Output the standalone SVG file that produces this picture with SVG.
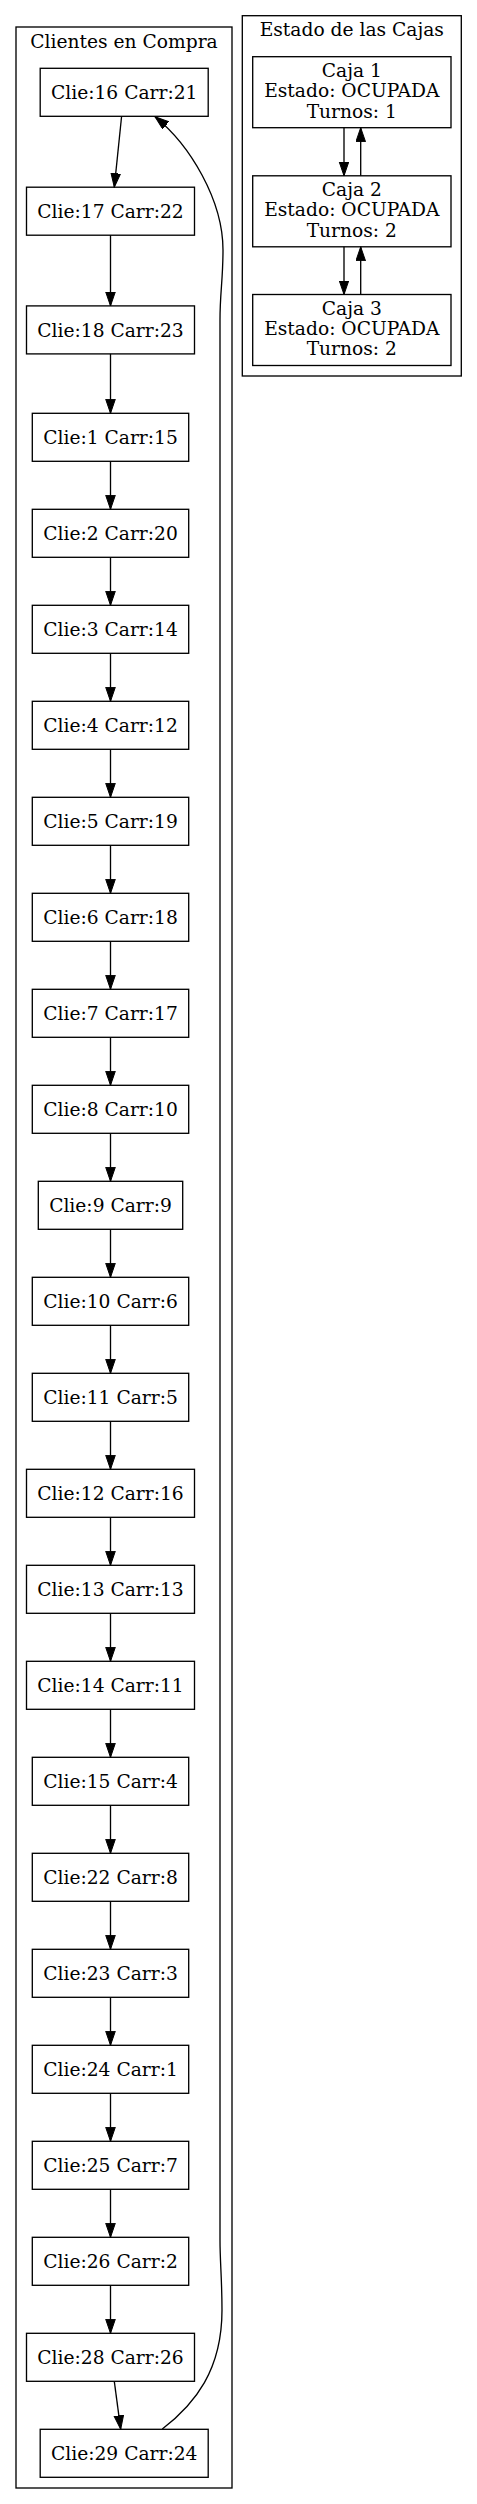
<svg xmlns="http://www.w3.org/2000/svg" width="477" height="2504" viewBox="0 0 477 2504">
<style>
.cl{fill:none;stroke:#000;stroke-width:1.33}
.nd{fill:#fff;stroke:#000;stroke-width:1.33}
.t{font-family:"DejaVu Serif","Liberation Serif",serif;font-size:18.67px;fill:#000;text-anchor:middle}
.e{fill:none;stroke:#000;stroke-width:1.33}
</style>
<defs>
<marker id="ah" markerUnits="userSpaceOnUse" markerWidth="15" markerHeight="11" refX="14" refY="5" orient="auto" viewBox="0 0 15 11">
<path d="M0,0.2 L14,5 L0,9.8 z" fill="#000" stroke="#000" stroke-width="1"/>
</marker>
</defs>
<rect width="477" height="2504" fill="#fff"/>
<g id="cluster_clientes">
<rect class="cl" x="16" y="27" width="216" height="2461"/>
<text class="t" x="124" y="48.3">Clientes en Compra</text>
</g>
<g id="cluster_cajas">
<rect class="cl" x="242.3" y="15.7" width="219" height="360.3"/>
<text class="t" x="351.8" y="35.7">Estado de las Cajas</text>
</g>
<g id="caja1"><rect class="nd" x="252.7" y="56.7" width="198.3" height="71"/><text class="t" x="351.8" y="77">Caja 1</text><text class="t" x="351.8" y="97.3">Estado: OCUPADA</text><text class="t" x="351.8" y="117.6">Turnos: 1</text></g>
<g id="caja2"><rect class="nd" x="252.7" y="175.8" width="198.3" height="71"/><text class="t" x="351.8" y="196">Caja 2</text><text class="t" x="351.8" y="216.3">Estado: OCUPADA</text><text class="t" x="351.8" y="236.6">Turnos: 2</text></g>
<g id="caja3"><rect class="nd" x="252.7" y="294.5" width="198.3" height="71"/><text class="t" x="351.8" y="314.7">Caja 3</text><text class="t" x="351.8" y="335">Estado: OCUPADA</text><text class="t" x="351.8" y="355.3">Turnos: 2</text></g>
<g id="c16"><rect class="nd" x="40.2" y="68.3" width="168" height="48"/><text class="t" x="124.2" y="99">Clie:16 Carr:21</text></g>
<g id="c17"><rect class="nd" x="26.5" y="187.2" width="168" height="48"/><text class="t" x="110.5" y="217.9">Clie:17 Carr:22</text></g>
<g id="c18"><rect class="nd" x="26.5" y="305.9" width="168" height="48"/><text class="t" x="110.5" y="336.6">Clie:18 Carr:23</text></g>
<g id="c1"><rect class="nd" x="32.3" y="413.3" width="156.4" height="48"/><text class="t" x="110.5" y="444">Clie:1 Carr:15</text></g>
<g id="c2"><rect class="nd" x="32.3" y="509.3" width="156.4" height="48"/><text class="t" x="110.5" y="540">Clie:2 Carr:20</text></g>
<g id="c3"><rect class="nd" x="32.3" y="605.3" width="156.4" height="48"/><text class="t" x="110.5" y="636">Clie:3 Carr:14</text></g>
<g id="c4"><rect class="nd" x="32.3" y="701.3" width="156.4" height="48"/><text class="t" x="110.5" y="732">Clie:4 Carr:12</text></g>
<g id="c5"><rect class="nd" x="32.3" y="797.3" width="156.4" height="48"/><text class="t" x="110.5" y="828">Clie:5 Carr:19</text></g>
<g id="c6"><rect class="nd" x="32.3" y="893.3" width="156.4" height="48"/><text class="t" x="110.5" y="924">Clie:6 Carr:18</text></g>
<g id="c7"><rect class="nd" x="32.3" y="989.3" width="156.4" height="48"/><text class="t" x="110.5" y="1020">Clie:7 Carr:17</text></g>
<g id="c8"><rect class="nd" x="32.3" y="1085.3" width="156.4" height="48"/><text class="t" x="110.5" y="1116">Clie:8 Carr:10</text></g>
<g id="c9"><rect class="nd" x="38.3" y="1181.3" width="144.4" height="48"/><text class="t" x="110.5" y="1212">Clie:9 Carr:9</text></g>
<g id="c10"><rect class="nd" x="32.3" y="1277.3" width="156.4" height="48"/><text class="t" x="110.5" y="1308">Clie:10 Carr:6</text></g>
<g id="c11"><rect class="nd" x="32.3" y="1373.3" width="156.4" height="48"/><text class="t" x="110.5" y="1404">Clie:11 Carr:5</text></g>
<g id="c12"><rect class="nd" x="26.5" y="1469.3" width="168" height="48"/><text class="t" x="110.5" y="1500">Clie:12 Carr:16</text></g>
<g id="c13"><rect class="nd" x="26.5" y="1565.3" width="168" height="48"/><text class="t" x="110.5" y="1596">Clie:13 Carr:13</text></g>
<g id="c14"><rect class="nd" x="26.5" y="1661.3" width="168" height="48"/><text class="t" x="110.5" y="1692">Clie:14 Carr:11</text></g>
<g id="c15"><rect class="nd" x="32.3" y="1757.3" width="156.4" height="48"/><text class="t" x="110.5" y="1788">Clie:15 Carr:4</text></g>
<g id="c22"><rect class="nd" x="32.3" y="1853.3" width="156.4" height="48"/><text class="t" x="110.5" y="1884">Clie:22 Carr:8</text></g>
<g id="c23"><rect class="nd" x="32.3" y="1949.3" width="156.4" height="48"/><text class="t" x="110.5" y="1980">Clie:23 Carr:3</text></g>
<g id="c24"><rect class="nd" x="32.3" y="2045.3" width="156.4" height="48"/><text class="t" x="110.5" y="2076">Clie:24 Carr:1</text></g>
<g id="c25"><rect class="nd" x="32.3" y="2141.3" width="156.4" height="48"/><text class="t" x="110.5" y="2172">Clie:25 Carr:7</text></g>
<g id="c26"><rect class="nd" x="32.3" y="2237.3" width="156.4" height="48"/><text class="t" x="110.5" y="2268">Clie:26 Carr:2</text></g>
<g id="c28"><rect class="nd" x="26.5" y="2333.3" width="168" height="48"/><text class="t" x="110.5" y="2364">Clie:28 Carr:26</text></g>
<g id="c29"><rect class="nd" x="40.2" y="2429.3" width="168" height="48"/><text class="t" x="124.2" y="2460">Clie:29 Carr:24</text></g>
<g id="edges" marker-end="url(#ah)">
<path class="e" d="M121.6,116.3 L114.3,187.2"/>
<path class="e" d="M110.5,235.2 L110.5,305.9"/>
<path class="e" d="M110.5,353.9 L110.5,413.3"/>
<path class="e" d="M110.5,461.3 L110.5,509.3"/>
<path class="e" d="M110.5,557.3 L110.5,605.3"/>
<path class="e" d="M110.5,653.3 L110.5,701.3"/>
<path class="e" d="M110.5,749.3 L110.5,797.3"/>
<path class="e" d="M110.5,845.3 L110.5,893.3"/>
<path class="e" d="M110.5,941.3 L110.5,989.3"/>
<path class="e" d="M110.5,1037.3 L110.5,1085.3"/>
<path class="e" d="M110.5,1133.3 L110.5,1181.3"/>
<path class="e" d="M110.5,1229.3 L110.5,1277.3"/>
<path class="e" d="M110.5,1325.3 L110.5,1373.3"/>
<path class="e" d="M110.5,1421.3 L110.5,1469.3"/>
<path class="e" d="M110.5,1517.3 L110.5,1565.3"/>
<path class="e" d="M110.5,1613.3 L110.5,1661.3"/>
<path class="e" d="M110.5,1709.3 L110.5,1757.3"/>
<path class="e" d="M110.5,1805.3 L110.5,1853.3"/>
<path class="e" d="M110.5,1901.3 L110.5,1949.3"/>
<path class="e" d="M110.5,1997.3 L110.5,2045.3"/>
<path class="e" d="M110.5,2093.3 L110.5,2141.3"/>
<path class="e" d="M110.5,2189.3 L110.5,2237.3"/>
<path class="e" d="M110.5,2285.3 L110.5,2333.3"/>
<path class="e" d="M114.3,2381.3 L120.7,2429.3"/>
<path class="e" d="M162.3,2429 C195,2404 222,2370 222,2310 C222,2280 220,2262 220,2240 L220,320 C220,292 223,280 223,250 C223,200 190,145 155,116.7"/>
<path class="e" d="M344,127.7 L344,175.8"/>
<path class="e" d="M360.7,175.8 L360.7,127.7"/>
<path class="e" d="M344,246.8 L344,294.5"/>
<path class="e" d="M360.7,294.5 L360.7,246.8"/>
</g>
</svg>
